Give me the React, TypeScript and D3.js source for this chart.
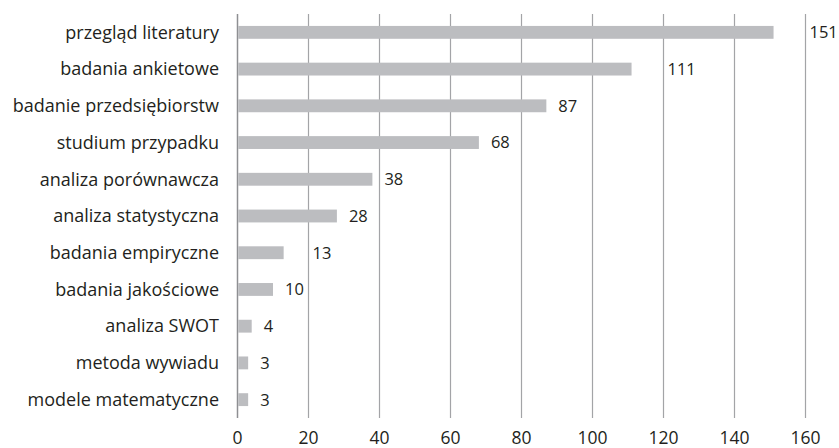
import React from "react";
import * as d3 from "d3";

const categories: string[] = [
  "przegląd literatury",
  "badania ankietowe",
  "badanie przedsiębiorstw",
  "studium przypadku",
  "analiza porównawcza",
  "analiza statystyczna",
  "badania empiryczne",
  "badania jakościowe",
  "analiza SWOT",
  "metoda wywiadu",
  "modele matematyczne",
];
const values: number[] = [151, 111, 87, 68, 38, 28, 13, 10, 4, 3, 3];
const ticks: number[] = [0, 20, 40, 60, 80, 100, 120, 140, 160];

const W = 839;
const H = 448;
const FONT = "'Open Sans', sans-serif";
const FS = 18;
const FS_VAL = 16.5;
const FS_TICK = 17.5;

export default function App() {
  const x = d3.scaleLinear().domain([0, 160]).range([237.5, 805.5]);
  const y = d3.scaleBand<string>().domain(categories).range([14, 418]).paddingInner(0.65).paddingOuter(0.325);
  const charW = FS_VAL * 0.572;
  const labelX = (v: number) => {
    const s = String(v);
    const w = s.length * charW;
    let lx = x(v) + 12;
    for (const t of ticks) {
      const gx = x(t);
      if (gx > lx - 2 && gx < lx + w + 2) lx = gx + 4;
    }
    return lx;
  };
  return (
    <svg width={W} height={H} style={{ position: "absolute", left: 0, top: 0, background: "#fff" }}>
      <g>
        {ticks.map((t) => (
          <line key={t} x1={x(t)} x2={x(t)} y1={14} y2={418} stroke={t === 0 ? "#8e8f92" : "#a3a4a7"} strokeWidth={t === 0 ? 1.5 : 1.2} />
        ))}
      </g>
      <g>
        {categories.map((c, i) => (
          <rect key={c} x={x(0) + 0.75} y={y(c)!} width={x(values[i]) - x(0) - 0.75} height={y.bandwidth()} fill="#bcbdc0" />
        ))}
      </g>
      <g fontFamily={FONT} fill="#231f20">
        {categories.map((c, i) => (
          <text key={c} x={219} y={y(c)! + y.bandwidth() / 2} dy="0.35em" textAnchor="end" fontSize={FS}>{c}</text>
        ))}
        {categories.map((c, i) => (
          <text key={c + "v"} x={labelX(values[i])} y={y(c)! + y.bandwidth() / 2} dy="0.36em" fontSize={FS_VAL}>{values[i]}</text>
        ))}
        {ticks.map((t) => (
          <text key={t} x={x(t)} y={444} textAnchor="middle" fontSize={FS_TICK}>{t}</text>
        ))}
      </g>
    </svg>
  );
}
